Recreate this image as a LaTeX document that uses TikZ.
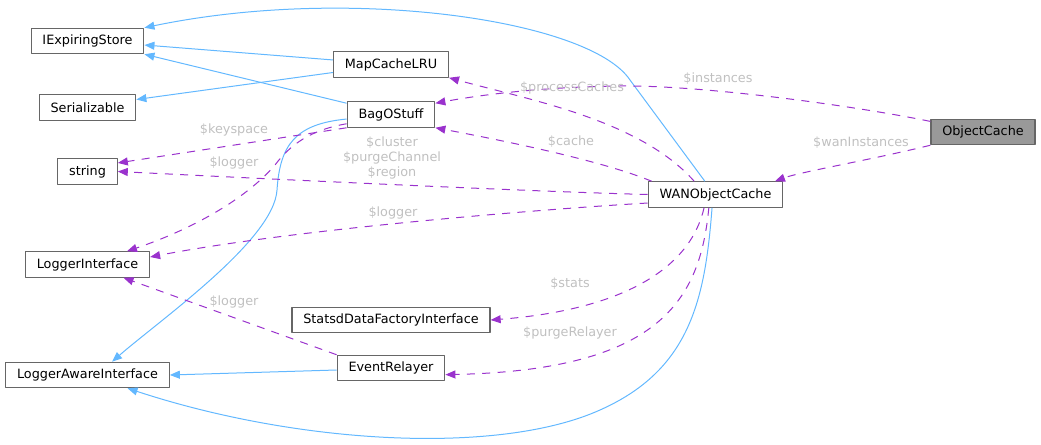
\documentclass[tikz,border=0pt]{standalone}
\usepackage{fontspec}
\setmainfont{DejaVu Sans}
\usetikzlibrary{arrows.meta}
\definecolor{inhblue}{RGB}{99,184,255}
\definecolor{usepurple}{RGB}{154,50,205}
\definecolor{lblgray}{RGB}{192,192,192}
\definecolor{boxgray}{RGB}{102,102,102}
\definecolor{basegray}{RGB}{153,153,153}
\begin{document}
\begin{tikzpicture}[x=0.75pt, y=-0.75pt, font=\fontsize{9.6}{10.9}\selectfont, line join=round, >={Triangle[length=7.5pt,width=6pt]},
	cls/.style={draw=boxgray, line width=0.9pt, fill=white, minimum height=19pt, inner xsep=8.5pt, inner ysep=2pt},
	base/.style={cls, fill=basegray},
	inh/.style={->, draw=inhblue, line width=0.75pt},
	use/.style={->, draw=usepurple, line width=0.75pt, dash pattern=on 6pt off 5.5pt},
	lbl/.style={text=lblgray, inner sep=0pt, align=center}]
			\useasboundingbox (0,0) rectangle (1041,445);
			% Các lớp
			\node[cls] (IExpiringStore) at (87.5,41) {IExpiringStore};
			\node[cls] (Serializable) at (87.5,107.5) {Serializable};
			\node[cls] (string) at (87.5,171.5) {string};
			\node[cls] (LoggerInterface) at (87.5,264.5) {LoggerInterface};
			\node[cls] (LoggerAwareInterface) at (87.5,375) {LoggerAwareInterface};
			\node[cls] (MapCacheLRU) at (391,64.5) {MapCacheLRU};
			\node[cls] (BagOStuff) at (391,114.5) {BagOStuff};
			\node[cls] (Statsd) at (391,320) {StatsdDataFactoryInterface};
			\node[cls] (EventRelayer) at (391,368) {EventRelayer};
			\node[cls] (WAN) at (715.5,194.5) {WANObjectCache};
			\node[base] (ObjectCache) at (983,132) {ObjectCache};
			% Kế thừa
			\draw[inh] ([xshift=-8pt]WAN.north) -- (630,80) .. controls (590,20) and (350,-15) .. (IExpiringStore.north east);
			\draw[inh] ([yshift=3.4pt]MapCacheLRU.west) -- ([yshift=-3pt]IExpiringStore.east);
			\draw[inh] ([yshift=-1.5pt]BagOStuff.north west) -- (IExpiringStore.south east);
			\draw[inh] ([yshift=-6pt]MapCacheLRU.west) -- ([yshift=6pt]Serializable.east);
			\draw[inh] ([yshift=-3.4pt]BagOStuff.west) .. controls (295,124) and (280,145) .. (277,190) .. controls (274,240) and (160,320) .. ([xshift=18.4pt]LoggerAwareInterface.north);
			\draw[inh] ([yshift=-1.5pt]EventRelayer.west) -- (LoggerAwareInterface.east);
			\draw[inh] ([xshift=-2.6pt]WAN.south) .. controls (705,300) and (690,370) .. (600,410) .. controls (500,455) and (300,445) .. ([xshift=30pt]LoggerAwareInterface.south);
			% Thành viên
			\draw[use] ([yshift=-2pt]ObjectCache.north west) .. controls (850,105) and (700,85) .. (620,86) .. controls (540,87) and (480,95) .. ([yshift=-1.5pt]BagOStuff.north east);
			\draw[use] (ObjectCache.south west) .. controls (870,160) and (800,172) .. ([xshift=44.6pt]WAN.north);
			\draw[use] ([xshift=-16pt]WAN.north) .. controls (640,120) and (530,100) .. (MapCacheLRU.south east);
			\draw[use] ([xshift=3pt]WAN.north west) .. controls (600,160) and (500,140) .. (BagOStuff.south east);
			\draw[use] (WAN.west) .. controls (550,192) and (350,183) .. (string.east);
			\draw[use] ([yshift=-6.4pt]WAN.west) .. controls (560,208) and (300,228) .. ([yshift=5.6pt]LoggerInterface.east);
			\draw[use] (BagOStuff.south west) -- ([yshift=6.4pt]string.east);
			\draw[use] ([yshift=3pt]BagOStuff.south west) .. controls (310,130) and (290,145) .. (275,165) .. controls (245,200) and (190,230) .. ([xshift=29.6pt]LoggerInterface.north);
			\draw[use] (EventRelayer.north west) -- ([xshift=27pt]LoggerInterface.south);
			\draw[use] ([xshift=-8.6pt]WAN.south) .. controls (690,270) and (620,310) .. (Statsd.east);
			\draw[use] ([xshift=-5pt]WAN.south) .. controls (700,300) and (660,370) .. ([yshift=-5pt]EventRelayer.east);
			% Nhãn
			\node[lbl] (lInstances) at (718,79) {\$instances};
			\node[lbl] (lWanInstances) at (861,143) {\$wanInstances};
			\node[lbl] (lProcessCaches) at (572,88) {\$processCaches};
			\node[lbl] (lCache) at (571,142) {\$cache};
			\node[lbl] (lCluster) at (392,158) {\$cluster\\\$purgeChannel\\\$region};
			\node[lbl] (lLoggerWan) at (393,213) {\$logger};
			\node[lbl] (lKeyspace) at (234,130) {\$keyspace};
			\node[lbl] (lLoggerBag) at (234,163) {\$logger};
			\node[lbl] (lLoggerEvent) at (234,302) {\$logger};
			\node[lbl] (lStats) at (570,284) {\$stats};
			\node[lbl] (lPurgeRelayer) at (570,333) {\$purgeRelayer};
		\end{tikzpicture}
\end{document}
